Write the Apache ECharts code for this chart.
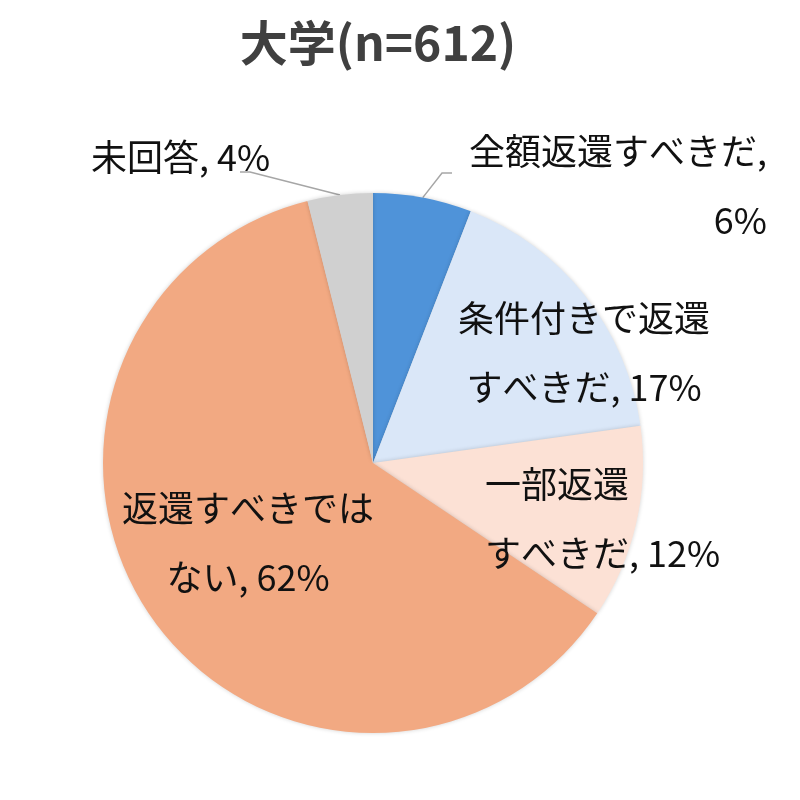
<!DOCTYPE html>
<html>
<head>
<meta charset="utf-8">
<script src="https://cdn.jsdelivr.net/npm/echarts@6/dist/echarts.min.js"></script>
<style>
    html, body { margin: 0; padding: 0; background: #fff; }
    #chart { width: 800px; height: 800px; }
</style>
</head>
<body>
<div id="chart"></div>
<script>
// 大学(n=612) の回答割合
const categories = ['全額返還すべきだ', '条件付きで返還すべきだ', '一部返還すべきだ', '返還すべきではない', '未回答']
const shares = [5.9, 16.9, 11.6, 61.7, 3.9]
const labelNames = ['全額返還すべきだ,\n', '条件付きで返還\nすべきだ, ', '一部返還\nすべきだ, ', '返還すべきでは\nない, ', '未回答, ']
const colors = ['#4f93d9', '#dae7f8', '#fce1d5', '#f2a982', '#d0d0d0']

// label placement per slice (text block anchor)
const labelSpots = [
    { x: 767, y: 186, align: 'right' },
    { x: 584, y: 353, align: 'center' },
    { x: 485, y: 519, align: 'left' },
    { x: 248, y: 543, align: 'center' },
    { x: 91, y: 157, align: 'left' },
]

const chart = echarts.init(document.getElementById('chart'))
const fontFamily = '"Noto Sans CJK JP", "Noto Sans", sans-serif'

chart.setOption({
    animation: false,
    title: {
        text: '大学(n=612)',
        left: 373,
        top: 14,
        textAlign: 'center',
        textStyle: {
            fontFamily: fontFamily,
            fontSize: 48,
            fontWeight: 'bold',
            color: '#404040',
        },
    },
    series: [
        {
            type: 'pie',
            center: [373, 463],
            radius: 270,
            startAngle: 90,
            clockwise: true,
            itemStyle: {
                borderWidth: 0,
                shadowBlur: 4,
                shadowColor: 'rgba(0,0,0,0.18)',
            },
            label: {
                show: true,
                position: 'outside',
                alignTo: 'none',
                overflow: 'none',
                color: '#111',
                fontFamily: fontFamily,
                fontSize: 36,
                lineHeight: 69,
                formatter: p => labelNames[p.dataIndex] + Math.round(p.value) + '%',
            },
            labelLine: {
                show: true,
                lineStyle: { color: '#a6a6a6', width: 1.5 },
            },
            labelLayout: params => {
                const i = params.dataIndex
                const spot = labelSpots[i]
                const out = {
                    x: spot.x,
                    y: spot.y,
                    align: spot.align,
                    verticalAlign: 'middle',
                }
                const start = params.labelLinePoints ? params.labelLinePoints[0] : null
                if (i === 0 && start) {
                    out.labelLinePoints = [start, [442, 173], [452, 173]]
                } else if (i === 4 && start) {
                    out.labelLinePoints = [start, [250, 172], [240, 172]]
                }
                return out
            },
            data: categories.map((name, i) => ({
                name: name,
                value: shares[i],
                itemStyle: { color: colors[i] },
                labelLine: { show: i === 0 || i === 4 },
            })),
        },
    ],
})
</script>
</body>
</html>
